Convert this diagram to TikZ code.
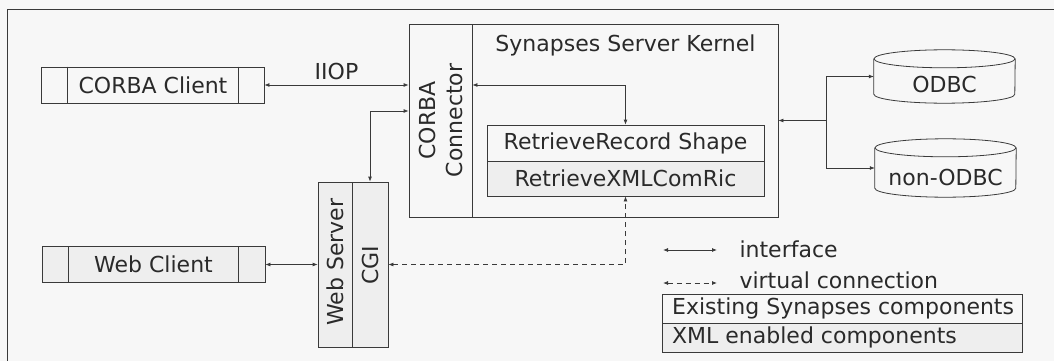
\documentclass[tikz,border=0pt]{standalone}
\usepackage{fontspec}
\setmainfont{DejaVu Sans}
\usetikzlibrary{arrows.meta,calc}
\definecolor{linec}{HTML}{3A3A3A}
\definecolor{textc}{HTML}{2A2A2A}
\definecolor{paper}{HTML}{F7F7F7}
\definecolor{xmlfill}{HTML}{EEEEEE}
\newcommand\lbfont{\fontsize{22}{27}\selectfont}
\tikzset{
  every node/.style={font=\lbfont, text=textc},
  box/.style={draw=linec, line width=0.8pt, rectangle, inner sep=0pt},
  xmlbox/.style={box, fill=xmlfill},
  hole/.style={rectangle, inner sep=0pt},
  wire/.style={draw=linec, line width=0.8pt},
  link/.style={wire, {Latex[length=5pt,width=4pt]}-{Latex[length=5pt,width=4pt]}},
  tolink/.style={wire, -{Latex[length=5pt,width=4pt]}},
  fromlink/.style={wire, {Latex[length=5pt,width=4pt]}-},
  virt/.style={link, dash pattern=on 5pt off 4pt},
}
\begin{document}
\begin{tikzpicture}[x=1pt, y=-1pt]
  \useasboundingbox (0,0) rectangle (1054,361);
  \clip (0,0) rectangle (1054,361);
  \fill[paper] (0,0) rectangle (1054,361);
  % outer frame
  \draw[wire] (7,370) -- (7,9) -- (1070,9);

  % clients
  \node[box, minimum width=223pt, minimum height=36pt] (cc) at (152.5,85) {};
  \draw[wire] ([xshift=27pt]cc.north west) -- ([xshift=27pt]cc.south west)
              ([xshift=-26pt]cc.north east) -- ([xshift=-26pt]cc.south east);
  \node (ccT) at (153,85) {CORBA Client};

  \node[xmlbox, minimum width=223pt, minimum height=36pt] (wc) at (153.5,264.5) {};
  \draw[wire] ([xshift=27pt]wc.north west) -- ([xshift=27pt]wc.south west)
              ([xshift=-27pt]wc.north east) -- ([xshift=-27pt]wc.south east);
  \node (wcT) at (153.5,264.5) {Web Client};

  % web server with CGI
  \node[xmlbox, minimum width=34pt, minimum height=165pt] (ws) at (335,264.5) {};
  \node[xmlbox, minimum width=36pt, minimum height=165pt] (cgi) at (370,264.5) {};
  \node[rotate=90] (wsT) at (335,262) {Web Server};
  \node[rotate=90] (cgiT) at (370,265) {CGI};

  % server kernel
  \node[box, minimum width=369pt, minimum height=193pt] (kern) at (593.5,120.5) {};
  \node[box, minimum width=63pt, minimum height=193pt] (conn) at (440.5,120.5) {};
  \node[rotate=90, align=center] (connT) at (440.5,120.5) {CORBA\\Connector};
  \node (kernT) at (625.5,45) {Synapses Server Kernel};
  \node[box, minimum width=277pt, minimum height=36pt] (rr) at (625.5,143)
       {RetrieveRecord Shape};
  \node[xmlbox, minimum width=277pt, minimum height=35pt] (rx) at (625.5,178.5)
       {RetrieveXMLComRic};

  % databases
  \node[hole, minimum width=141pt, minimum height=53pt] (odbc) at (944.5,76.5) {};
  \node[hole, minimum width=141pt, minimum height=58pt] (nodbc) at (945.5,168) {};
  \foreach \db in {odbc, nodbc}{
    \draw[wire] ([yshift=-9pt]\db.north west) -- ([yshift=9pt]\db.south west)
      arc[start angle=180, end angle=360, x radius=70.5pt, y radius=9pt]
      -- ([yshift=-9pt]\db.north east);
    \draw[wire] ([yshift=-9pt]\db.north) ellipse [x radius=70.5pt, y radius=9pt];
  }
  \node (odbcT) at ([yshift=-8pt]odbc.center) {ODBC};
  \node (nodbcT) at ([yshift=-9pt]nodbc.center) {non-ODBC};

  % connectors
  \draw[link] (cc.east) -- node[above=1pt] {IIOP} (cc.east -| conn.west);
  \draw[link] (conn.east |- cc.east) -| (rr.north);
  \draw[link] (cgi.north) |- ([yshift=9.5pt]conn.west);
  \draw[link] (wc.east) -- (wc.east -| ws.west);
  \draw[virt] (cgi.east |- wcT) -| (rx.south);
  \coordinate (fork) at (826,120.5);
  \draw[fromlink] (kern.east) -- (fork);
  \draw[tolink] (fork) |- (odbc.west);
  \draw[tolink] (fork) |- (nodbc.west);

  % legend
  \coordinate (la) at (663,250);
  \coordinate (lb) at (717,250);
  \coordinate (lc) at (663,283);
  \coordinate (ld) at (717,283);
  \draw[link] (la) -- (lb);
  \draw[virt] (lc) -- (ld);
  \node[anchor=west] (laT) at (736,249) {interface};
  \node[anchor=west] (lcT) at (736,280) {virtual connection};
  \node[box, minimum width=360pt, minimum height=29pt] (le1) at (842,308.5) {};
  \node[xmlbox, minimum width=360pt, minimum height=29pt] (le2) at (842,337.5) {};
  \node[anchor=west] (le1T) at ([xshift=7pt]le1.west) {Existing Synapses components};
  \node[anchor=west] (le2T) at ([xshift=7pt]le2.west) {XML enabled components};
\end{tikzpicture}
\end{document}
